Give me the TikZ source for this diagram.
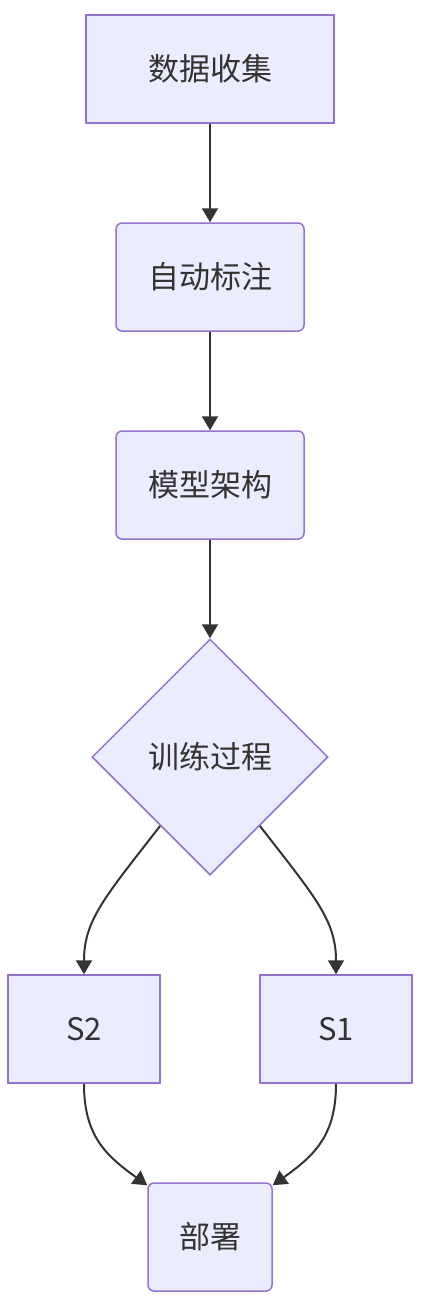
\documentclass[tikz,border=0pt]{standalone}
\usepackage{fontspec}
\setmainfont{Noto Sans CJK SC}
\usetikzlibrary{shapes.geometric,arrows.meta,calc}
\definecolor{nfill}{HTML}{ECECFF}
\definecolor{nline}{HTML}{9370DB}
\definecolor{edgec}{HTML}{333333}
\tikzset{
  base/.style={draw=nline, fill=nfill, line width=1.5pt, text=edgec, inner sep=0pt,
    font=\fontsize{31}{36}\selectfont},
  sqbox/.style={base, rectangle, minimum height=108pt},
  rbox/.style={base, rectangle, rounded corners=6pt, minimum height=108pt},
  decide/.style={base, diamond, aspect=1, minimum width=236pt, minimum height=236pt},
  conn/.style={draw=edgec, line width=2pt, -{Triangle[length=14pt,width=16pt]}},
}
\begin{document}
\begin{tikzpicture}[x=1pt,y=-1pt]
\useasboundingbox (0,0) rectangle (424,1308);
\node[sqbox, minimum width=248pt] (n1) at (210,69) {数据收集};
\node[rbox, minimum width=188pt] (n2) at (210,277) {自动标注};
\node[rbox, minimum width=188pt] (n3) at (210,485) {模型架构};
\node[decide] (d) at (210,757) {训练过程};
\node[sqbox, minimum width=152pt] (s2) at (84,1029) {S2};
\node[sqbox, minimum width=152pt] (s1) at (336,1029) {S1};
\node[rbox, minimum width=124pt] (dep) at (210,1237) {部署};
\coordinate (dl) at ($(d.west)!0.58!(d.south)$);
\coordinate (dr) at ($(d.east)!0.58!(d.south)$);
\coordinate (depl) at ($(dep.north west)+(0,3)$);
\coordinate (depr) at ($(dep.north east)+(0,3)$);
\draw[conn] (n1.south) -- (n2.north);
\draw[conn] (n2.south) -- (n3.north);
\draw[conn] (n3.south) -- (d.north);
\draw[conn] (dl) .. controls (105,897) and (84,920) .. (s2.north);
\draw[conn] (dr) .. controls (315,897) and (336,920) .. (s1.north);
\draw[conn] (s2.south) .. controls (84,1135) and (105,1155) .. (depl);
\draw[conn] (s1.south) .. controls (336,1135) and (315,1155) .. (depr);
\end{tikzpicture}
\end{document}
